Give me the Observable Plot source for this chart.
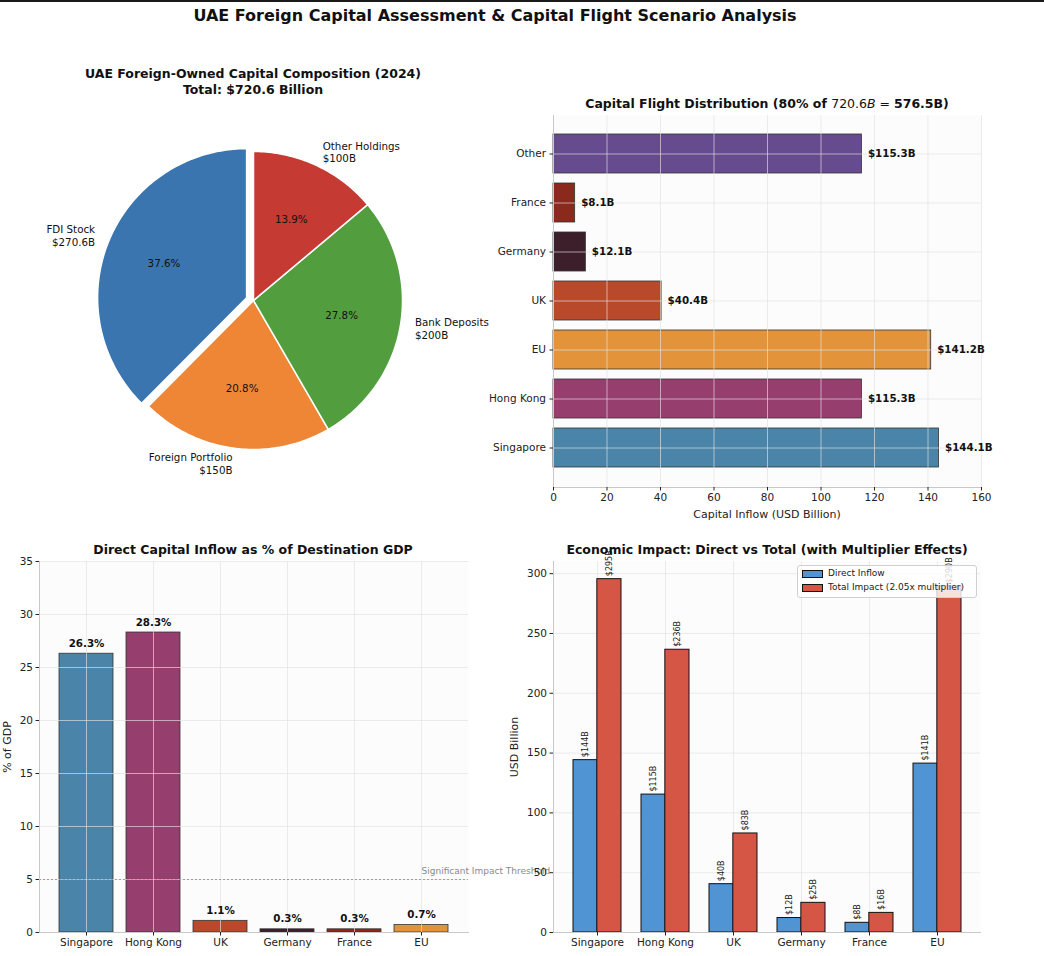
<!DOCTYPE html>
<html><head><meta charset="utf-8">
<script src="https://cdn.jsdelivr.net/npm/d3@7"></script>
<script src="https://cdn.jsdelivr.net/npm/@observablehq/plot@0.6"></script>
<style>
body{margin:0;background:#fff;font-family:"DejaVu Sans",sans-serif;}
#fig{position:relative;width:1044px;height:956px;overflow:hidden;background:#fff}
.t{position:absolute;text-align:center;white-space:nowrap;color:#111;font-family:"DejaVu Sans",sans-serif}
</style></head><body><div id="fig"></div>
<script>
// ---------- data ----------
const pieLabels = ["FDI Stock", "Foreign Portfolio", "Bank Deposits", "Other Holdings"];
const pieValues = [270.6, 150, 200, 100];
const pieAmountLabels = ["$270.6B", "$150B", "$200B", "$100B"];
const pieColors = ["#3a75b0", "#ef8636", "#529e3f", "#c53a32"];
const pieExplode = [0.05, 0, 0, 0];

const flightShare = 0.8;
const flightDestinations = ["Singapore", "Hong Kong", "EU", "UK", "Germany", "France", "Other"];
const flightValues = [144.1, 115.3, 141.2, 40.4, 12.1, 8.1, 115.3];
const flightColors = ["#4a84a9", "#963f6f", "#e3943a", "#b84a2b", "#3d1f2c", "#8b2a1c", "#674b8f"];
const flightTicks = [0, 20, 40, 60, 80, 100, 120, 140, 160];

const gdpCountries = ["Singapore", "Hong Kong", "UK", "Germany", "France", "EU"];
const gdpShare = [26.3, 28.3, 1.1, 0.3, 0.3, 0.7];
const gdpColors = ["#4a84a9", "#963f6f", "#b84a2b", "#3d1f2c", "#8b2a1c", "#e3943a"];
const gdpTicks = [0, 5, 10, 15, 20, 25, 30, 35];
const thresholdValue = 5;
const thresholdLabel = "Significant Impact Threshold";

const impactCountries = ["Singapore", "Hong Kong", "UK", "Germany", "France", "EU"];
const directInflow = [144.1, 115.3, 40.4, 12.1, 8.1, 141.2];
const totalImpact = [295.4, 236.4, 82.8, 24.8, 16.4, 289.5];
const directLabels = ["$144B", "$115B", "$40B", "$12B", "$8B", "$141B"];
const totalLabels = ["$295B", "$236B", "$83B", "$25B", "$16B", "$290B"];
const impactTicks = [0, 50, 100, 150, 200, 250, 300];
const multiplier = 2.05;

// ---------- helpers ----------
const fig = document.getElementById("fig");
function addText(html, css) {
  const d = document.createElement("div");
  d.className = "t";
  d.innerHTML = html;
  d.style.cssText += css;
  fig.appendChild(d);
  return d;
}
function place(el, left, top) {
  const w = document.createElement("div");
  w.style.cssText = `position:absolute;left:${left}px;top:${top}px`;
  w.appendChild(el);
  fig.appendChild(w);
}
const baseStyle = {fontFamily: "DejaVu Sans, sans-serif", fontSize: "10.5px", background: "none", overflow: "visible", color: "#222"};
const gridStroke = "#e2e2e2", gridOpacity = 0.65, spine = "#c8c8c8";

// top border & main title
const bar = document.createElement("div");
bar.style.cssText = "position:absolute;left:0;top:0;width:1044px;height:2px;background:#1a1a1a";
fig.appendChild(bar);
addText("UAE Foreign Capital Assessment &amp; Capital Flight Scenario Analysis",
  "left:0;width:990px;top:6px;font-weight:bold;font-size:16px;line-height:20px");

// ---------- Panel 1: pie ----------
const total = d3.sum(pieValues);
let acc = 0;
const slices = pieLabels.map((name, i) => {
  const a0 = 90 + acc / total * 360;
  acc += pieValues[i];
  const a1 = 90 + acc / total * 360;
  const m = (a0 + a1) / 2 * Math.PI / 180;
  return {name, i, a0, a1, m, ox: pieExplode[i] * Math.cos(m), oy: pieExplode[i] * Math.sin(m)};
});
const piePts = [];
slices.forEach(s => {
  piePts.push({name: s.name, color: pieColors[s.i], x: s.ox, y: s.oy});
  const n = Math.ceil(s.a1 - s.a0);
  for (let k = 0; k <= n; k++) {
    const a = (s.a0 + (s.a1 - s.a0) * k / n) * Math.PI / 180;
    piePts.push({name: s.name, color: pieColors[s.i], x: s.ox + Math.cos(a), y: s.oy + Math.sin(a)});
  }
  piePts.push({name: s.name, color: pieColors[s.i], x: s.ox, y: s.oy});
});
const pieText = slices.map(s => ({
  x: s.ox + 1.1 * Math.cos(s.m), y: s.oy + 1.1 * Math.sin(s.m),
  text: s.name + "\n" + pieAmountLabels[s.i], right: Math.cos(s.m) >= 0
}));
const piePct = slices.map(s => ({
  x: s.ox + 0.6 * Math.cos(s.m), y: s.oy + 0.6 * Math.sin(s.m),
  text: (pieValues[s.i] / total * 100).toFixed(1) + "%"
}));
const R = 149;
const pie = Plot.plot({
  width: 500, height: 400, margin: 0,
  style: baseStyle,
  x: {domain: [-253 / R, 247 / R], axis: null},
  y: {domain: [-200 / R, 200 / R], axis: null},
  color: {type: "identity"},
  marks: [
    Plot.line(piePts, {x: "x", y: "y", z: "name", fill: "color", stroke: "white", strokeWidth: 1.5, strokeLinejoin: "round"}),
    Plot.text(pieText.filter(d => d.right), {x: "x", y: "y", text: "text", textAnchor: "start", lineAnchor: "middle", lineHeight: 1.25, fontSize: 10.3, fill: "#111"}),
    Plot.text(pieText.filter(d => !d.right), {x: "x", y: "y", text: "text", textAnchor: "end", lineAnchor: "middle", lineHeight: 1.25, fontSize: 10.3, fill: "#111"}),
    Plot.text(piePct, {x: "x", y: "y", text: "text", fontSize: 10.3, fill: "#111"})
  ]
});
place(pie, 0, 100);
addText(`UAE Foreign-Owned Capital Composition (2024)<br>Total: $${total.toFixed(1)} Billion`,
  "left:0;width:506px;top:66px;font-weight:bold;font-size:12.5px;line-height:16px");

// ---------- Panel 2: horizontal bars ----------
const rowsB = flightDestinations.map((d, i) => ({name: d, value: flightValues[i], color: flightColors[i]}));
const chartB = Plot.plot({
  width: 560, height: 430, marginLeft: 83, marginRight: 49, marginTop: 15, marginBottom: 43,
  style: baseStyle,
  x: {domain: [0, 160]},
  y: {domain: flightDestinations.slice().reverse(), paddingInner: 0.2, paddingOuter: 0.34},
  color: {type: "identity"},
  marks: [
    Plot.frame({fill: "#fcfcfc", stroke: null}),
    Plot.barX(rowsB, {x: "value", y: "name", fill: "color", stroke: "#333", strokeWidth: 0.8}),
    Plot.gridX({ticks: flightTicks, stroke: gridStroke, strokeOpacity: gridOpacity}),
    Plot.gridY({stroke: gridStroke, strokeOpacity: gridOpacity}),
    Plot.frame({anchor: "left", stroke: spine}),
    Plot.frame({anchor: "bottom", stroke: spine}),
    Plot.axisX({ticks: flightTicks, tickSize: 3.5, tickPadding: 3, label: null, color: "#222"}),
    Plot.axisY({tickSize: 3.5, tickPadding: 4, label: null, color: "#222"}),
    Plot.text(rowsB, {x: "value", y: "name", text: d => "$" + d.value.toFixed(1) + "B", textAnchor: "start", dx: 6, fontWeight: "bold", fontSize: 10.3, fill: "#111"})
  ]
});
place(chartB, 470, 100);
const flightTotal = total * flightShare;
addText(`<b>Capital Flight Distribution (${Math.round(flightShare * 100)}% of </b><span>${total.toFixed(1)}<i>B</i> = </span><b>${flightTotal.toFixed(1)}B)</b>`,
  "left:517px;width:500px;top:96px;font-size:12.5px;line-height:16px");
addText("Capital Inflow (USD Billion)", "left:617px;width:300px;top:507px;font-size:11px;line-height:16px;color:#222");

// ---------- Panel 3: % of GDP ----------
const rowsC = gdpCountries.map((c, i) => ({country: c, value: gdpShare[i], color: gdpColors[i]}));
const chartC = Plot.plot({
  width: 500, height: 411, marginLeft: 39, marginRight: 32, marginTop: 16, marginBottom: 24,
  style: baseStyle,
  x: {domain: gdpCountries, paddingInner: 0.2, paddingOuter: 0.3},
  y: {domain: [0, 35]},
  color: {type: "identity"},
  marks: [
    Plot.frame({fill: "#fcfcfc", stroke: null}),
    Plot.barY(rowsC, {x: "country", y: "value", fill: "color", stroke: "#333", strokeWidth: 0.8}),
    Plot.gridX({stroke: gridStroke, strokeOpacity: gridOpacity}),
    Plot.gridY({ticks: gdpTicks, stroke: gridStroke, strokeOpacity: gridOpacity}),
    Plot.ruleY([thresholdValue], {stroke: "#a0a0a0", strokeDasharray: "2,2", strokeWidth: 1}),
    Plot.text([thresholdLabel], {x: () => gdpCountries[gdpCountries.length - 1], y: () => thresholdValue + 0.5, text: d => d, textAnchor: "start", lineAnchor: "bottom", fontSize: 9, fill: "#8a8a8a"}),
    Plot.frame({anchor: "left", stroke: spine}),
    Plot.frame({anchor: "bottom", stroke: spine}),
    Plot.axisX({tickSize: 3.5, tickPadding: 3, label: null, color: "#222"}),
    Plot.axisY({ticks: gdpTicks, tickSize: 3.5, tickPadding: 3, label: null, color: "#222"}),
    Plot.text(rowsC, {x: "country", y: "value", text: d => d.value.toFixed(1) + "%", lineAnchor: "bottom", dy: -7, fontWeight: "bold", fontSize: 10.3, fill: "#111"})
  ]
});
place(chartC, 0, 545);
addText("Direct Capital Inflow as % of Destination GDP", "left:0;width:506px;top:542px;font-weight:bold;font-size:12.5px;line-height:16px");
addText("% of GDP", "left:-42px;width:100px;top:739px;font-size:11px;line-height:16px;color:#222;transform:rotate(-90deg)");

// ---------- Panel 4: direct vs total ----------
const rowsD = impactCountries.map((c, i) => ({country: c, direct: directInflow[i], total: totalImpact[i], dl: directLabels[i], tl: totalLabels[i]}));
const dPadIn = 0.3, dPadOut = 0.285, dWidth = 544 - 53 - 64;
const bwD = (1 - dPadIn) * dWidth / (impactCountries.length - dPadIn + 2 * dPadOut);
const chartD = Plot.plot({
  width: 544, height: 411, marginLeft: 53, marginRight: 64, marginTop: 16, marginBottom: 24,
  style: baseStyle,
  x: {domain: impactCountries, paddingInner: dPadIn, paddingOuter: dPadOut},
  y: {domain: [0, d3.max(totalImpact) * 1.05]},
  marks: [
    Plot.frame({fill: "#fcfcfc", stroke: null}),
    Plot.gridX({stroke: gridStroke, strokeOpacity: gridOpacity}),
    Plot.gridY({ticks: impactTicks, stroke: gridStroke, strokeOpacity: gridOpacity}),
    Plot.barY(rowsD, {x: "country", y: "direct", fill: "#5094d4", stroke: "#111", strokeWidth: 1, insetRight: bwD / 2}),
    Plot.barY(rowsD, {x: "country", y: "total", fill: "#d65645", stroke: "#111", strokeWidth: 1, insetLeft: bwD / 2}),
    Plot.frame({anchor: "left", stroke: spine}),
    Plot.frame({anchor: "bottom", stroke: spine}),
    Plot.axisX({tickSize: 3.5, tickPadding: 3, label: null, color: "#222"}),
    Plot.axisY({ticks: impactTicks, tickSize: 3.5, tickPadding: 3, label: null, color: "#222"}),
    Plot.text(rowsD, {x: "country", y: "direct", text: "dl", rotate: -90, textAnchor: "start", dx: -bwD / 4, dy: -3, fontSize: 8, fill: "#222"}),
    Plot.text(rowsD, {x: "country", y: "total", text: "tl", rotate: -90, textAnchor: "start", dx: bwD / 4, dy: -3, fontSize: 8, fill: "#222"})
  ]
});
place(chartD, 500, 545);
addText("Economic Impact: Direct vs Total (with Multiplier Effects)", "left:517px;width:500px;top:542px;font-weight:bold;font-size:12.5px;line-height:16px");
addText("USD Billion", "left:465px;width:100px;top:739px;font-size:11px;line-height:16px;color:#222;transform:rotate(-90deg)");

// legend
const leg = document.createElement("div");
leg.style.cssText = "position:absolute;left:797px;top:565px;width:178px;height:31px;background:rgba(255,255,255,0.82);border:1px solid #d0d0d0;border-radius:3px;font-family:'DejaVu Sans',sans-serif;font-size:9px;color:#222";
leg.innerHTML = `
<div style="position:absolute;left:4px;top:4px;width:19px;height:6px;background:#5094d4;border:1px solid #111"></div>
<div style="position:absolute;left:30px;top:2px;line-height:11px">Direct Inflow</div>
<div style="position:absolute;left:4px;top:18px;width:19px;height:6px;background:#d65645;border:1px solid #111"></div>
<div style="position:absolute;left:30px;top:16px;line-height:11px">Total Impact (${multiplier.toFixed(2)}x multiplier)</div>`;
fig.appendChild(leg);
</script></body></html>
